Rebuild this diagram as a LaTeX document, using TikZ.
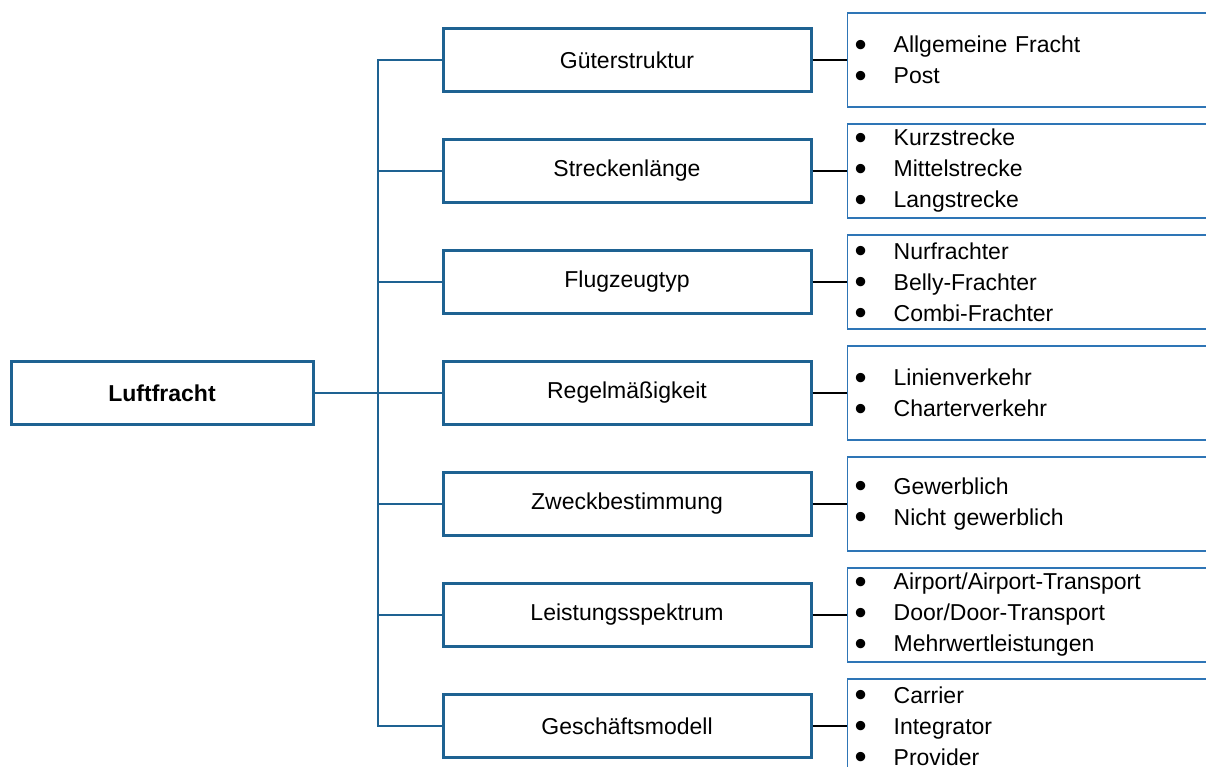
\documentclass[tikz,border=0pt]{standalone}
\usepackage{fontspec}
\setmainfont{Liberation Sans}
\definecolor{frame}{RGB}{30,98,146}
\definecolor{listframe}{RGB}{46,117,182}
\newcommand\bigdot{\smash{\raisebox{-3.4pt}{\scalebox{1.5}{\textbullet}}}}
\newcommand\bul[1]{\makebox[46pt][l]{\hspace{7pt}\bigdot}#1}
\begin{document}
\begin{tikzpicture}[x=1pt,y=-1pt,
  txt/.style={font=\fontsize{23}{31}\selectfont},
  catbox/.style={txt, draw=frame, line width=3pt, minimum width=368pt,
    minimum height=63pt, inner sep=0pt},
  rootbox/.style={catbox, minimum width=302pt,
    font=\fontsize{23}{31}\selectfont\bfseries},
  listbox/.style={txt, draw=listframe, line width=1.3pt, anchor=west,
    text width=380pt, align=left, inner xsep=0pt, inner ysep=0pt,
    minimum height=94pt},
  trunk/.style={draw=frame, line width=2pt},
  leaf/.style={draw=black, line width=2pt}]
\useasboundingbox (0,0) rectangle (1206,767);
\clip (0,0) rectangle (1206,767);

% root
\node[rootbox] (root) at (162,393) {Luftfracht};

% categories
\node[catbox] (c1) at (627,60)  {Güterstruktur};
\node[catbox] (c2) at (627,171) {Streckenlänge};
\node[catbox] (c3) at (627,282) {Flugzeugtyp};
\node[catbox] (c4) at (627,393) {Regelmäßigkeit};
\node[catbox] (c5) at (627,504) {Zweckbestimmung};
\node[catbox] (c6) at (627,615) {Leistungsspektrum};
\node[catbox] (c7) at (627,726) {Geschäftsmodell};

% item lists
\node[listbox] (l1) at (847,60)  {\bul{Allgemeine Fracht}\\\bul{Post}};
\node[listbox] (l2) at (847,171) {\bul{Kurzstrecke}\\\bul{Mittelstrecke}\\\bul{Langstrecke}};
\node[listbox] (l3) at (847,282) {\bul{Nurfrachter}\\\bul{Belly-Frachter}\\\bul{Combi-Frachter}};
\node[listbox] (l4) at (847,393) {\bul{Linienverkehr}\\\bul{Charterverkehr}};
\node[listbox] (l5) at (847,504) {\bul{Gewerblich}\\\bul{Nicht gewerblich}};
\node[listbox] (l6) at (847,615) {\bul{Airport/Airport-Transport}\\\bul{Door/Door-Transport}\\\bul{Mehrwertleistungen}};
\node[listbox] (l7) at (847,726) {\bul{Carrier}\\\bul{Integrator}\\\bul{Provider}};

% tree connectors
\coordinate (jt) at (378,0);
\draw[trunk] (root.east) -- (root.east -| jt);
\draw[trunk] (c1.west) -- (c1.west -| jt) -- (c7.west -| jt) -- (c7.west);
\foreach \i in {2,...,6}{
  \draw[trunk] (c\i.west) -- (c\i.west -| jt);
}
\foreach \i in {1,...,7}{
  \draw[leaf] (c\i.east) -- (l\i.west);
}
\end{tikzpicture}
\end{document}
